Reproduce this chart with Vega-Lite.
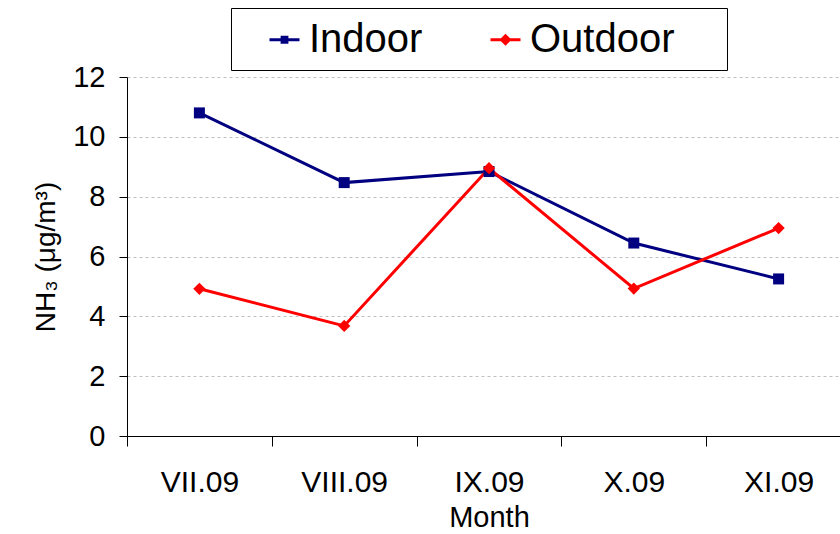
{
  "$schema": "https://vega.github.io/schema/vega-lite/v6.json",
  "width": 713,
  "height": 359,
  "autosize": {"type": "none"},
  "padding": {"left": 127, "top": 77, "right": 0, "bottom": 98},
  "background": "white",
  "config": {"view": {"stroke": null}, "font": "Liberation Sans"},
  "data": {
    "values": [
      {"month": "VII.09", "series": "Indoor", "value": 10.8},
      {"month": "VIII.09", "series": "Indoor", "value": 8.47},
      {"month": "IX.09", "series": "Indoor", "value": 8.84},
      {"month": "X.09", "series": "Indoor", "value": 6.45},
      {"month": "XI.09", "series": "Indoor", "value": 5.25},
      {"month": "VII.09", "series": "Outdoor", "value": 4.92},
      {"month": "VIII.09", "series": "Outdoor", "value": 3.68},
      {"month": "IX.09", "series": "Outdoor", "value": 8.95},
      {"month": "X.09", "series": "Outdoor", "value": 4.93},
      {"month": "XI.09", "series": "Outdoor", "value": 6.95}
    ]
  },
  "encoding": {
    "x": {
      "field": "month",
      "type": "ordinal",
      "sort": ["VII.09", "VIII.09", "IX.09", "X.09", "XI.09"],
      "scale": {"type": "band", "range": [0, 724], "paddingInner": 0, "paddingOuter": 0},
      "axis": {
        "title": "Month",
        "labelAngle": 0,
        "tickBand": "extent",
        "tickSize": 10,
        "tickColor": "black",
        "domainColor": "black",
        "labelFontSize": 30,
        "labelColor": "black",
        "labelPadding": 21,
        "titleFontSize": 29,
        "titleFontWeight": "normal",
        "titleColor": "black",
        "titlePadding": 6,
        "grid": false
      }
    },
    "y": {
      "field": "value",
      "type": "quantitative",
      "scale": {"domain": [0, 12]},
      "axis": {
        "title": "NH₃ (μg/m³)",
        "values": [0, 2, 4, 6, 8, 10, 12],
        "grid": true,
        "gridColor": "#c0c0c0",
        "gridDash": [3, 3],
        "domainColor": "black",
        "tickColor": "black",
        "tickSize": 8,
        "labelFontSize": 29,
        "labelColor": "black",
        "labelPadding": 14,
        "titleFontSize": 28,
        "titleFontWeight": "normal",
        "titleColor": "black",
        "titlePadding": 12
      }
    },
    "color": {
      "field": "series",
      "type": "nominal",
      "scale": {"domain": ["Indoor", "Outdoor"], "range": ["#000080", "#FF0000"]},
      "legend": {
        "orient": "none",
        "legendX": 104,
        "legendY": -69,
        "direction": "horizontal",
        "title": "\u00a0",
        "titleOrient": "right",
        "titleFontSize": 8,
        "titlePadding": 42,
        "labelFontSize": 40,
        "labelColor": "black",
        "labelOffset": 25,
        "labelLimit": 400,
        "symbolSize": 1600,
        "padding": 10,
        "strokeColor": "black",
        "fillColor": "white",
        "columnPadding": 39,
        "encode": {
          "symbols": {
            "update": {
              "shape": {"signal": "datum.value === 'Indoor' ? 'M0.35,0H1.85M0.98,-0.12H1.22V0.12H0.98Z' : 'M0.35,0H1.85M1.1,-0.2L1.3,0L1.1,0.2L0.9,0Z'"},
              "fill": {"signal": "scale('color', datum.value)"},
              "stroke": {"signal": "scale('color', datum.value)"},
              "strokeWidth": {"value": 3},
              "opacity": {"value": 1}
            }
          }
        }
      }
    }
  },
  "layer": [
    {"mark": {"type": "line", "strokeWidth": 3}},
    {
      "transform": [{"filter": "datum.series === 'Indoor'"}],
      "mark": {"type": "point", "filled": true, "opacity": 1, "shape": "square", "size": 121}
    },
    {
      "transform": [{"filter": "datum.series === 'Outdoor'"}],
      "mark": {"type": "point", "filled": true, "opacity": 1, "shape": "diamond", "size": 150}
    }
  ]
}
